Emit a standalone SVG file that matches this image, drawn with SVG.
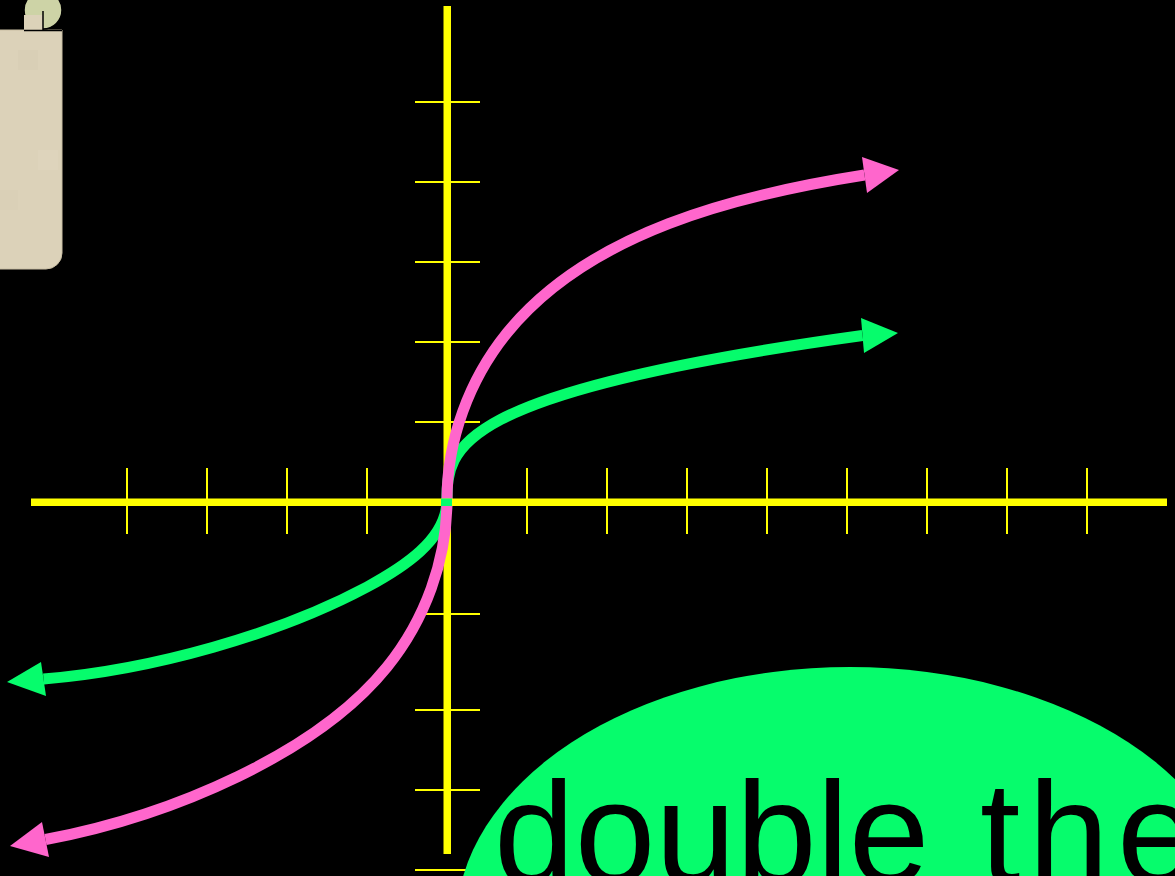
<svg xmlns="http://www.w3.org/2000/svg" width="1175" height="876" viewBox="0 0 1175 876">
  <defs>
    <style>
      .axis { fill: #ffff00; }
      .tick { stroke: #ffff00; stroke-width: 2; fill: none; }
      .curve { fill: none; stroke-width: 11; stroke-linecap: butt; stroke-linejoin: round; }
      .pink { stroke: #ff66cc; }
      .green { stroke: #06fc6c; }
      .head-pink { fill: #ff66cc; }
      .head-green { fill: #06fc6c; }
      .paper { fill: #dcd2b9; }
      .label { font-family: "Comic Sans MS", "Liberation Sans", Arial, sans-serif; font-size: 145px; fill: #000000; }
    </style>
  </defs>

  <rect x="0" y="0" width="1175" height="876" fill="#000000"/>

  <g id="scroll">
    <path class="paper" d="M-2,30 H62 V253 A16,16 0 0 1 46,269 H-2 Z" stroke="#c9bea3" stroke-width="1"/>
    <rect x="18" y="50" width="20" height="20" fill="#d9cfb6"/>
    <rect x="38" y="150" width="20" height="20" fill="#ded4bc"/>
    <rect x="0" y="190" width="18" height="20" fill="#dad0b7"/>
    <circle cx="43" cy="10" r="19" fill="#cdd3a6" stroke="#000000" stroke-width="1.5"/>
    <rect class="paper" x="24" y="15" width="19" height="15"/>
    <path d="M43,11 V30.5 M24,30.5 H62" stroke="#000000" stroke-width="1.5" fill="none"/>
  </g>

  <g id="y-axis">
    <rect class="axis" x="443.5" y="6" width="7.5" height="848"/>
    <line class="tick" x1="415" y1="102" x2="480" y2="102"/>
    <line class="tick" x1="415" y1="182" x2="480" y2="182"/>
    <line class="tick" x1="415" y1="262" x2="480" y2="262"/>
    <line class="tick" x1="415" y1="342" x2="480" y2="342"/>
    <line class="tick" x1="415" y1="422" x2="480" y2="422"/>
    <line class="tick" x1="415" y1="614" x2="480" y2="614"/>
    <line class="tick" x1="415" y1="710" x2="480" y2="710"/>
    <line class="tick" x1="415" y1="790" x2="480" y2="790"/>
    <line class="tick" x1="415" y1="870" x2="480" y2="870"/>
  </g>

  <g id="connectors">
    <g id="green-curve">
      <path class="curve green" d="M43.5,679 C153,670 279,634 367,587 C402,568 447,540 447,500"/>
      <path class="curve green" d="M447,500 C447,448 452,392 862.5,335.5"/>
      <path class="head-green" d="M41,662 L7,682 L46,696 Z"/>
      <path class="head-green" d="M861,318 L898,333 L864,353 Z"/>
    </g>
    <g id="pink-curve">
      <path class="curve pink" d="M45.5,839.5 C173,815.5 317.7,752.8 387,667 C425,620 447,560 447,500 C447,440 469,380 507,333 C589,232 737,195 864.5,175"/>
      <path class="head-pink" d="M42,822 L10,846 L49,857 Z"/>
      <path class="head-pink" d="M862,157 L899,170 L867,193 Z"/>
    </g>
  </g>

  <g id="x-axis">
    <rect class="axis" x="31" y="498.5" width="1136" height="7.5"/>
    <line class="tick" x1="127" y1="468" x2="127" y2="534"/>
    <line class="tick" x1="207" y1="468" x2="207" y2="534"/>
    <line class="tick" x1="287" y1="468" x2="287" y2="534"/>
    <line class="tick" x1="367" y1="468" x2="367" y2="534"/>
    <line class="tick" x1="527" y1="468" x2="527" y2="534"/>
    <line class="tick" x1="607" y1="468" x2="607" y2="534"/>
    <line class="tick" x1="687" y1="468" x2="687" y2="534"/>
    <line class="tick" x1="767" y1="468" x2="767" y2="534"/>
    <line class="tick" x1="847" y1="468" x2="847" y2="534"/>
    <line class="tick" x1="927" y1="468" x2="927" y2="534"/>
    <line class="tick" x1="1007" y1="468" x2="1007" y2="534"/>
    <line class="tick" x1="1087" y1="468" x2="1087" y2="534"/>
    <rect x="441" y="498.5" width="11" height="7.5" fill="#06fc6c"/>
  </g>

  <g id="bubble">
    <ellipse cx="850" cy="925" rx="394" ry="258" fill="#06fc6c"/>
    <text class="label" x="494" y="883">double <tspan x="980" letter-spacing="8">the</tspan></text>
  </g>
</svg>
